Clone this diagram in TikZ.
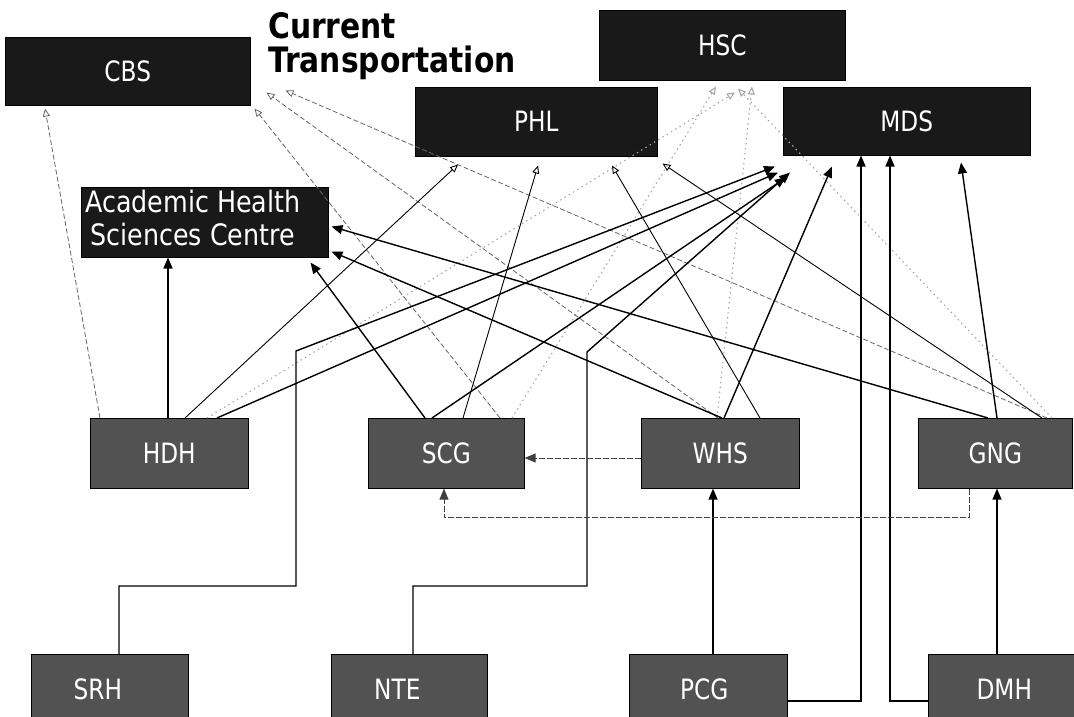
\documentclass[tikz,border=0pt]{standalone}
\usepackage{fontspec}
\newfontfamily\boxfont{DejaVu Sans}[FakeStretch=0.83]
\newfontfamily\ahscfont{DejaVu Sans}[FakeStretch=0.86]
\newfontfamily\ttlfont{DejaVu Sans}[FakeStretch=0.85]
\usetikzlibrary{arrows.meta,calc}
\begin{document}
\begin{tikzpicture}[x=1pt,y=-1pt,
  topbox/.style={draw=black, line width=0.5pt, fill=black!90, text=white, inner sep=0pt, anchor=north west, font=\boxfont\fontsize{28}{33}\selectfont},
  midbox/.style={draw=black, line width=0.6pt, fill=black!68, text=white, inner sep=0pt, anchor=north west, minimum height=70pt, font=\boxfont\fontsize{28}{33}\selectfont},
  ttl/.style={anchor=base west, inner sep=0pt, font=\ttlfont\bfseries\fontsize{35}{37}\selectfont},
  sol/.style={line width=1.4pt, -{Triangle[length=11pt,width=9pt]}},
  phlln/.style={line width=0.9pt, -{Triangle[open,length=8pt,width=7pt]}},
  cbsln/.style={draw=black!60, line width=0.8pt, dash pattern=on 5pt off 2.5pt, -{Triangle[open,length=8pt,width=7pt]}},
  hscln/.style={draw=black!35, line width=1.1pt, dash pattern=on 1.5pt off 3.5pt, -{Triangle[open,length=8pt,width=7pt]}},
  dsh/.style={draw=black!75, line width=0.9pt, dash pattern=on 6pt off 2pt, -{Triangle[length=11pt,width=9pt]}}
]
\clip (0,0) rectangle (1074,716);
\fill[white] (0,0) rectangle (1074,716);

% title
\node[ttl] (ttla) at (268,38) {Current};
\node[ttl] (ttlb) at (268,72) {Transportation};

% top boxes
\node[topbox, minimum width=245pt, minimum height=68pt] (cbs) at (5,37) {CBS};
\node[topbox, minimum width=246pt, minimum height=70pt] (hsc) at (599,10) {HSC};
\node[topbox, minimum width=242pt, minimum height=69pt] (phl) at (415,87) {PHL};
\node[topbox, minimum width=247pt, minimum height=68pt] (mds) at (783,87) {MDS};
\node[topbox, minimum width=247pt, minimum height=70pt, font=\ahscfont\fontsize{29.5}{33}\selectfont] (ahsc) at (81,187)
  {\begin{tabular}{@{}c@{}}Academic Health\\Sciences Centre\end{tabular}\hspace*{24pt}};

% middle boxes
\node[midbox, minimum width=158pt] (hdh) at (90,418) {HDH};
\node[midbox, minimum width=156pt] (scg) at (368,418) {SCG};
\node[midbox, minimum width=158pt] (whs) at (641,418) {WHS};
\node[midbox, minimum width=154pt] (gng) at (918,418) {GNG};

% bottom boxes
\node[midbox, minimum width=157pt] (srh) at (31,654) {SRH\hspace*{24pt}};
\node[midbox, minimum width=156pt] (nte) at (331,654) {NTE\hspace*{24pt}};
\node[midbox, minimum width=158pt] (pcg) at (629,654) {PCG\hspace*{8pt}};
\node[midbox, minimum width=152pt] (dmh) at (928,654) {DMH};

% dotted lines to HSC
\draw[hscln] ($(hdh.north west)+(117,0)$) -- ($(hsc.south west)+(136,12)$);
\draw[hscln] ($(scg.north west)+(144,0)$) -- ($(hsc.south west)+(117,6)$);
\draw[hscln] ($(whs.north west)+(76,0)$) -- ($(hsc.south west)+(153,6)$);
\draw[hscln] ($(gng.north west)+(134,0)$) -- ($(hsc.south west)+(139,8)$);

% dashed lines to CBS
\draw[cbsln] ($(hdh.north west)+(10,0)$) -- ($(cbs.south west)+(40,3)$);
\draw[cbsln] ($(scg.north west)+(132,0)$) -- ($(cbs.south east)+(4,3)$);
\draw[cbsln] ($(whs.north west)+(77,0)$) -- ($(cbs.south east)+(16,-13)$);
\draw[cbsln] ($(gng.north west)+(129,0)$) -- ($(cbs.south east)+(35,-15)$);

% thin lines to PHL
\draw[phlln] ($(hdh.north west)+(95,0)$) -- ($(phl.south west)+(43,8)$);
\draw[phlln] ($(scg.north west)+(95,0)$) -- ($(phl.south west)+(123,9)$);
\draw[phlln] ($(whs.north west)+(119,0)$) -- ($(phl.south west)+(197,9)$);
\draw[phlln] ($(gng.north west)+(124,0)$) -- ($(phl.south east)+(5,7)$);

% solid arrows to AHSC
\draw[sol] ($(hdh.north west)+(78,0)$) -- ($(ahsc.south west)+(87,0)$);
\draw[sol] ($(scg.north west)+(57,0)$) -- ($(ahsc.south east)+(-18,5)$);
\draw[sol] ($(whs.north west)+(81,0)$) -- ($(ahsc.south east)+(3,-6)$);
\draw[sol] ($(gng.north west)+(70,0)$) -- ($(ahsc.south east)+(3,-31)$);

% solid arrows to MDS
\draw[sol] ($(hdh.north west)+(127,0)$) -- ($(mds.south west)+(-5,17)$);
\draw[sol] ($(srh.north west)+(88,0)$) -- ++(0,-68) -- ++(177,0) -- ++(0,-235) -- ($(mds.south west)+(-8,11)$);
\draw[sol] ($(scg.north west)+(64,0)$) -- ($(mds.south west)+(3,22)$);
\draw[sol] ($(nte.north west)+(82,0)$) -- ++(0,-68) -- ++(174,0) -- ++(0,-234) -- ($(mds.south west)+(7,17)$);
\draw[sol] ($(whs.north west)+(83,0)$) -- ($(mds.south west)+(49,11)$);
\draw[sol] ($(pcg.north east)+(0,47)$) -| ($(mds.south west)+(78,0)$);
\draw[sol] ($(dmh.north west)+(0,47)$) -| ($(mds.south west)+(107,0)$);
\draw[sol] ($(gng.north west)+(79,0)$) -- ($(mds.south west)+(178,7)$);

% bottom to middle
\draw[sol] ($(pcg.north west)+(84,0)$) -- ($(whs.south west)+(72,0)$);
\draw[sol] ($(dmh.north west)+(69,0)$) -- ($(gng.south west)+(79,0)$);

% to SCG
\draw[dsh] ($(whs.north west)+(0,40)$) -- ($(scg.north east)+(0,40)$);
\draw[dsh] ($(gng.south west)+(51,0)$) -- ++(0,29) -| ($(scg.south west)+(76,0)$);
\end{tikzpicture}
\end{document}
